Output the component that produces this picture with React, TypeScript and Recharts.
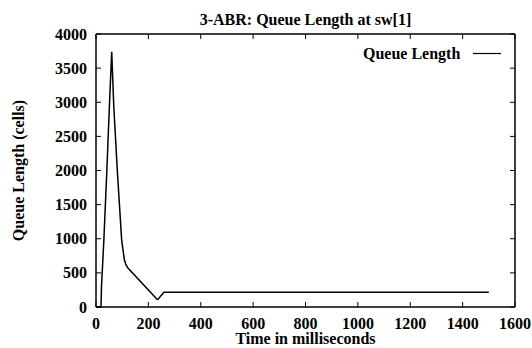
import React from 'react';
import { LineChart, Line, XAxis, YAxis, Legend, Label } from 'recharts';

// values
const timeMs = [0, 19, 21, 30, 41, 51, 60, 68, 82, 98, 108, 114, 122, 233, 237, 259, 1500];
const queueCells = [0, 0, 300, 980, 1960, 2930, 3740, 2930, 1960, 980, 700, 620, 570, 115, 115, 215, 215];
const xTicks = [0, 200, 400, 600, 800, 1000, 1200, 1400, 1600];
const yTicks = [0, 500, 1000, 1500, 2000, 2500, 3000, 3500, 4000];

const data = timeMs.map((t, i) => ({ t, q: queueCells[i] }));

const font = '"Liberation Serif", "Times New Roman", serif';
const textStyle = { fill: '#000', fontSize: 16, fontWeight: 'bold', fontFamily: font };
const axisLine = { stroke: '#000', strokeWidth: 1.5 };

// gnuplot style: ticks point inward, labels outside
const makeTick = (side: 'bottom' | 'left' | 'top' | 'right', showLabel: boolean) => (props: any) => {
  const { x, y, payload } = props;
  const len = 5;
  let line;
  if (side === 'bottom') line = <line x1={x} y1={y} x2={x} y2={y - len} stroke="#000" />;
  else if (side === 'top') line = <line x1={x} y1={y} x2={x} y2={y + len} stroke="#000" />;
  else if (side === 'left') line = <line x1={x} y1={y} x2={x + len} y2={y} stroke="#000" />;
  else line = <line x1={x} y1={y} x2={x - len} y2={y} stroke="#000" />;
  return (
    <g>
      {line}
      {showLabel && side === 'bottom' && (
        <text x={x} y={y + 21.5} textAnchor="middle" {...textStyle}>{payload.value}</text>
      )}
      {showLabel && side === 'left' && (
        <text x={x - 9} y={y + 5.5} textAnchor="end" {...textStyle}>{payload.value}</text>
      )}
    </g>
  );
};

const LegendBox = () => (
  <svg width={150} height={22}>
    <text x={0} y={15} {...textStyle}>
      Queue Length
    </text>
    <line x1={110} y1={9.5} x2={138} y2={9.5} stroke="#000" strokeWidth={1.2} />
  </svg>
);

const App: React.FC = () => {
  return (
    <div style={{ position: 'absolute', left: 0, top: 0, background: '#fff' }}>
      <LineChart width={532} height={348} data={data} margin={{ top: 33, right: 16, left: 0, bottom: 0 }}>
        <XAxis
          dataKey="t"
          type="number"
          domain={[0, 1600]}
          ticks={xTicks}
          height={41}
          tick={makeTick('bottom', true)}
          tickSize={0}
          tickMargin={0}
          tickLine={false}
          axisLine={axisLine}
          interval={0}
        >
          <Label value="Time in milliseconds" position="insideBottom" offset={4} style={textStyle} />
        </XAxis>
        <XAxis
          xAxisId="top"
          orientation="top"
          dataKey="t"
          type="number"
          domain={[0, 1600]}
          ticks={xTicks}
          height={1}
          tick={makeTick('top', false)}
          tickSize={0}
          tickMargin={0}
          tickLine={false}
          axisLine={axisLine}
          interval={0}
        >
          <Label value="3-ABR: Queue Length at sw[1]" position="top" offset={8} style={textStyle} />
        </XAxis>
        <YAxis
          type="number"
          domain={[0, 4000]}
          ticks={yTicks}
          width={96}
          tick={makeTick('left', true)}
          tickSize={0}
          tickMargin={0}
          tickLine={false}
          axisLine={axisLine}
          interval={0}
        >
          <Label
            value="Queue Length (cells)"
            position="insideLeft"
            angle={-90}
            offset={18}
            style={{ ...textStyle, textAnchor: 'middle' }}
          />
        </YAxis>
        <YAxis
          yAxisId="right"
          orientation="right"
          type="number"
          domain={[0, 4000]}
          ticks={yTicks}
          width={1}
          tick={makeTick('right', false)}
          tickSize={0}
          tickMargin={0}
          tickLine={false}
          axisLine={axisLine}
          interval={0}
        />
        <Legend
          layout="horizontal"
          verticalAlign="middle"
          align="center"
          content={() => <LegendBox />}
          wrapperStyle={{ left: 363, top: 44, width: 150, height: 22 }}
        />
        <Line
          type="linear"
          dataKey="q"
          name="Queue Length"
          stroke="#000"
          strokeWidth={1.5}
          dot={false}
          isAnimationActive={false}
        />
        {/* invisible copy so the mirrored frame axes get drawn */}
        <Line
          xAxisId="top"
          yAxisId="right"
          type="linear"
          dataKey="q"
          stroke="none"
          dot={false}
          legendType="none"
          isAnimationActive={false}
        />
      </LineChart>
    </div>
  );
};

export default App;
